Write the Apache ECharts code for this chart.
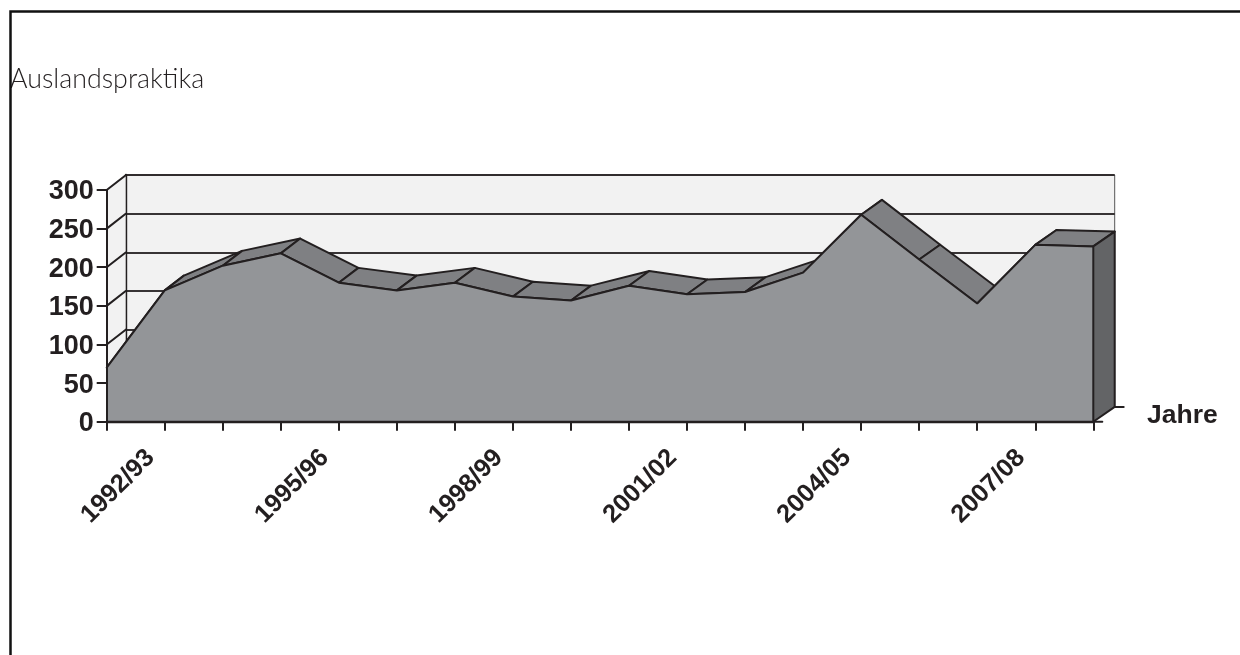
<!DOCTYPE html>
<html>
<head>
<meta charset="utf-8">
<style>html,body{margin:0;padding:0;background:#fff}#c{width:1240px;height:655px}</style>
<script src="https://cdn.jsdelivr.net/npm/echarts@6/dist/echarts.min.js"></script>
</head>
<body>
<div id="c"></div>
<script>
// Placements abroad per academic year
const years = ['1991/92','1992/93','1993/94','1994/95','1995/96','1996/97','1997/98','1998/99','1999/00',
  '2000/01','2001/02','2002/03','2003/04','2004/05','2005/06','2006/07','2007/08','2008/09'];
const placements = [70,170,202,218,180,170,180,162,157,176,165,168,193,268,210,153,229,227];
const yTicks = [0,50,100,150,200,250,300];

const INK = '#231f20', FRONT = '#939598', TOP = '#7f8083', SIDE = '#636466', WALL = '#f2f2f2';
const SANS = '"Liberation Sans", Arial, sans-serif';
const STROKE = 2;

// Oblique projection from the front plane to the back wall
const X0 = 106.7, X1 = 1093.3, DX0 = 19, DX1 = 21.4, DY = -14.8;
const back = p => [p[0] + DX0 + (p[0] - X0) / (X1 - X0) * (DX1 - DX0), p[1] + DY];
const poly = (points, fill, lw) => ({
  type: 'polygon', shape: { points },
  style: { fill, stroke: INK, lineWidth: lw, lineJoin: 'round' }
});
const seg = (a, b, lw) => ({
  type: 'line', shape: { x1: a[0], y1: a[1], x2: b[0], y2: b[1] },
  style: { stroke: INK, lineWidth: lw, lineCap: 'round' }
});

const chart = echarts.init(document.getElementById('c'), null, { renderer: 'canvas' });
chart.setOption({
  animation: false,
  backgroundColor: '#ffffff',
  title: {
    text: 'Auslandspraktika', left: 5, top: 61,
    textStyle: { fontFamily: 'Lato', fontWeight: 300, fontSize: 26.8, color: INK }
  },
  graphic: [
    { type: 'polyline', z: 20, shape: { points: [[10.5, 655], [10.5, 11.5], [1240, 11.5]] },
      style: { fill: 'none', stroke: '#111', lineWidth: 2.5 } },
    { type: 'text', z: 20, x: 1147, y: 416,
      style: { text: 'Jahre', fill: INK, verticalAlign: 'middle',
        font: 'bold 26.5px "Liberation Sans", Arial, sans-serif' } }
  ],
  grid: [
    { left: X0, right: 1240 - X1, top: 190, height: 231.7 },
    { left: 125.7, right: 1240 - 1114.7, top: 175, height: 232, show: true,
      backgroundColor: WALL, borderColor: '#555', borderWidth: 1 }
  ],
  xAxis: [
    { type: 'category', gridIndex: 0, data: years, boundaryGap: false, z: 10,
      axisLine: { onZero: false, lineStyle: { color: INK, width: 2.4 } },
      axisTick: { alignWithLabel: true, interval: 0, length: 9, lineStyle: { color: INK, width: STROKE } },
      axisLabel: {
        interval: i => i % 3 === 1, rotate: 45, margin: 18, padding: [0, 20, 0, 0],
        fontFamily: SANS, fontWeight: 'bold', fontSize: 25.5, color: INK
      } },
    { type: 'category', gridIndex: 1, data: years, boundaryGap: false, show: false }
  ],
  yAxis: [
    { type: 'value', gridIndex: 0, min: 0, max: 300, interval: 50, z: 10,
      axisLine: { show: true, lineStyle: { color: INK, width: STROKE } },
      axisTick: { show: true, length: 10, lineStyle: { color: INK, width: STROKE } },
      axisLabel: { margin: 13, verticalAlign: 'top', lineHeight: 4, fontFamily: SANS, fontWeight: 'bold', fontSize: 27, color: INK },
      splitLine: { show: false } },
    { type: 'value', gridIndex: 1, min: 0, max: 300, interval: 50,
      axisLine: { show: true, lineStyle: { color: INK, width: 2.4 } },
      axisTick: { show: false }, axisLabel: { show: false },
      splitLine: { show: true, lineStyle: { color: INK, width: 2, opacity: 0.9 } } }
  ],
  series: [
    // Side wall on the left, with a slanted rule for each value tick
    { type: 'custom', xAxisIndex: 0, yAxisIndex: 0, z: 1, silent: true,
      data: yTicks.map(v => [0, v]),
      renderItem(params, api) {
        const p = api.coord([0, api.value(1)]);
        const children = [];
        if (params.dataIndex === 0) {
          const a = api.coord([0, 0]), b = api.coord([0, 300]);
          children.push({ type: 'polygon', shape: { points: [a, back(a), back(b), b] }, style: { fill: WALL } });
        }
        children.push(seg(p, back(p), STROKE));
        return { type: 'group', children };
      } },
    // Sloped top surface, one panel between each pair of years
    { type: 'custom', xAxisIndex: 0, yAxisIndex: 0, z: 2, silent: true,
      data: placements.map((v, i) => [i, v]),
      renderItem(params, api) {
        const i = api.value(0);
        if (i >= placements.length - 1) return null;
        const a = api.coord([i, api.value(1)]);
        const b = api.coord([i + 1, placements[i + 1]]);
        return poly([a, b, back(b), back(a)], TOP, STROKE);
      } },
    // Front face
    { type: 'line', xAxisIndex: 0, yAxisIndex: 0, z: 3, data: placements,
      symbol: 'none', silent: true,
      lineStyle: { color: INK, width: STROKE },
      areaStyle: { color: FRONT, opacity: 1 } },
    // Right end cap and the floor stubs beside it
    { type: 'custom', xAxisIndex: 0, yAxisIndex: 0, z: 4, silent: true,
      data: [[years.length - 1, placements[placements.length - 1]]],
      renderItem(params, api) {
        const t = api.coord([api.value(0), api.value(1)]);
        const f = api.coord([api.value(0), 0]);
        const bf = back(f);
        return { type: 'group', children: [
          poly([f, bf, back(t), t], SIDE, STROKE),
          seg(f, [f[0] + 9, f[1]], STROKE),
          seg(bf, [bf[0] + 9, bf[1]], STROKE)
        ] };
      } }
  ]
});
</script>
</body>
</html>
